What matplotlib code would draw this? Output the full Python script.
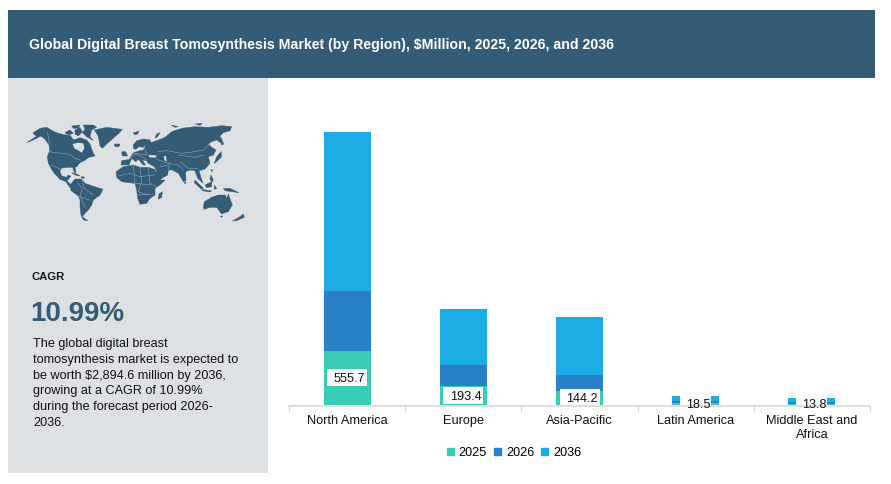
import matplotlib
matplotlib.use("Agg")
import matplotlib.pyplot as plt
from matplotlib.patches import Patch, Polygon, Rectangle

plt.rcParams["font.family"] = ["Liberation Sans", "DejaVu Sans"]

W, H = 891, 484
DARK = "#355C76"
PANEL = "#DEE1E4"
COLORS = {"2025": "#38CBB5", "2026": "#2A80C7", "2036": "#1DADE6"}

regions = ["North America", "Europe", "Asia-Pacific", "Latin America", "Middle East and\nAfrica"]
values_2025 = [555.7, 193.4, 144.2, 18.5, 13.8]
values_2026 = [617, 216, 165, 25, 18]
values_2036 = [1636, 576, 597, 50, 36]

title = "Global Digital Breast Tomosynthesis Market (by Region), $Million, 2025, 2026, and 2036"
body = [
    "The global digital breast",
    "tomosynthesis market is expected to",
    "be worth $2,894.6 million by 2036,",
    "growing at a CAGR of 10.99%",
    "during the forecast period 2026-",
    "2036.",
]

# Simplified land outlines for the world map, in map units.
# The eastern hemisphere list is shifted right by EAST_SHIFT when drawn.
EAST_SHIFT = 270
land_west = [
    [(25,38),(45,25),(65,22),(82,32),(92,37),(115,44),(135,46),(146,60),(165,53),(185,60),(195,72),(205,100),(210,108),(192,112),(178,122),(165,128),(155,140),(150,143),(153,158),(148,158),(143,142),(125,142),(108,145),(105,155),(110,168),(125,172),(128,165),(138,168),(130,178),(128,185),(140,195),(135,203),(122,185),(105,178),(88,160),(80,148),(70,130),(67,110),(74,92),(72,75),(60,58),(48,48),(25,60),(5,68),(25,55),(35,48),(25,42)],
    [(120,38),(135,30),(145,40),(130,45)],
    [(150,30),(165,22),(172,35),(160,48),(150,42)],
    [(175,15),(205,15),(215,22),(200,30),(195,50),(205,62),(185,50),(172,38),(180,28)],
    [(140,18),(165,15),(160,24),(145,25)],
    [(208,30),(245,22),(292,28),(282,40),(270,50),(245,72),(232,85),(225,78),(222,60),(218,45)],
    [(268,72),(285,72),(282,80),(270,80)],
    [(135,195),(150,177),(170,177),(180,190),(200,197),(234,208),(225,225),(205,240),(200,255),(190,270),(180,280),(172,290),(188,302),(175,300),(168,285),(165,260),(165,240),(160,228),(138,212)],
    [(140,158),(158,163),(165,168),(150,165)],
    [(168,170),(178,171),(177,175),(169,174)],
]
land_east = [
    [(3,155),(25,140),(55,135),(75,142),(100,142),(118,148),(130,165),(138,180),(150,180),(135,195),(120,205),(120,225),(105,235),(95,250),(75,253),(68,235),(65,210),(60,190),(40,188),(20,185),(5,172)],
    [(18,135),(20,122),(42,118),(50,106),(55,98),(75,92),(85,90),(95,72),(125,62),(150,52),(170,35),(200,25),(240,20),(280,22),(320,17),(350,20),(345,32),(325,38),(315,48),(322,72),(305,60),(290,65),(280,72),(290,82),(303,90),(295,105),(280,110),(285,130),(270,147),(252,152),(258,172),(264,190),(248,175),(240,152),(225,150),(212,155),(213,182),(205,185),(190,160),(172,150),(160,150),(158,165),(135,178),(125,155),(118,140),(100,130),(95,122),(82,120),(92,135),(85,135),(70,118),(62,125),(50,115),(42,135)],
    [(55,75),(65,62),(85,57),(105,60),(108,70),(95,72),(85,82),(72,80),(62,88),(55,85)],
    [(20,95),(32,95),(38,108),(22,108)],
    [(55,38),(72,34),(68,42),(58,44)],
    [(120,55),(125,42),(135,38),(128,50)],
    [(168,15),(190,20),(180,22)],
    [(240,12),(262,10),(255,16)],
    [(318,52),(326,72),(320,75)],
    [(305,110),(318,95),(320,110),(305,125),(298,130)],
    [(288,148),(293,150),(290,156)],
    [(288,165),(295,180),(290,188),(285,175)],
    [(240,180),(265,205),(258,207),(238,188)],
    [(260,208),(290,213),(285,216),(262,212)],
    [(270,195),(290,185),(290,200),(275,203)],
    [(298,195),(305,205),(298,208)],
    [(325,205),(345,205),(372,218),(350,215),(330,212)],
    [(265,262),(268,245),(290,232),(310,225),(330,225),(335,235),(340,222),(352,255),(340,275),(320,282),(305,262),(285,262),(268,268)],
    [(315,288),(323,288),(320,292)],
    [(352,303),(372,292),(385,282),(388,292),(365,302)],
    [(142,215),(140,232),(130,238),(132,222)],
    [(208,185),(214,188),(210,192)],
]
lakes_west = [[(143,72),(160,68),(175,70),(178,85),(170,98),(158,90),(148,85)]]
lakes_east = [[(100,105),(125,106),(122,113),(104,112)], [(147,108),(153,108),(155,125),(148,120)]]
borders_west = [
    [(68,38),(73,72)],
    [(72,95),(110,100),(135,103),(150,115),(165,120)],
    [(78,135),(105,147)],
    [(122,185),(130,178)],
    [(158,190),(172,205),(165,228),(180,262)],
    [(170,177),(178,205),(205,225)],
    [(160,228),(192,240)],
]
borders_east = [
    [(10,168),(45,160),(75,170),(118,165)],
    [(55,135),(60,190)],
    [(75,142),(80,185),(70,215),(100,225)],
    [(100,142),(105,190),(125,200)],
    [(60,190),(110,195)],
    [(68,225),(115,222)],
    [(42,118),(62,100),(95,105)],
    [(55,98),(80,110),(95,120)],
    [(90,85),(95,105)],
    [(128,95),(155,92),(200,100),(240,95),(265,90),(285,72)],
    [(190,105),(240,112),(268,105)],
    [(195,125),(220,145),(250,145)],
    [(125,118),(160,130),(190,135),(205,150)],
    [(160,148),(165,125)],
    [(135,140),(160,135)],
]

fig = plt.figure(figsize=(W / 100, H / 100), dpi=100, facecolor="white")

# Page furniture in pixel coordinates
page = fig.add_axes([0, 0, 1, 1])
page.set_xlim(0, W)
page.set_ylim(H, 0)
page.axis("off")
page.add_patch(Rectangle((8, 10), 867, 68, color=DARK, lw=0))
page.add_patch(Rectangle((8, 78), 260, 395, color=PANEL, lw=0))
page.text(29, 45, title, color="white", fontsize=10.15, fontweight="bold", va="center", ha="left")
page.text(32, 277.5, "CAGR", color="#1a1a1a", fontsize=8.1, fontweight="bold", va="center", ha="left")
page.text(30, 314, "10.99%", color=DARK, fontsize=20, fontweight="bold", va="center", ha="left")
for i, line in enumerate(body):
    page.text(33, 344 + i * 15.8, line, color="#111111", fontsize=9.1, va="center", ha="left")

# World map
globe = fig.add_axes([25 / W, 1 - 230 / H, 225 / W, 110 / H])
globe.set_xlim(0, 675)
globe.set_ylim(330, 0)
globe.axis("off")


def shifted(points, dx):
    return [(px + dx, py) for px, py in points]


for outline, dx in [(o, 0) for o in land_west] + [(o, EAST_SHIFT) for o in land_east]:
    globe.add_patch(Polygon(shifted(outline, dx), closed=True, facecolor=DARK, edgecolor=DARK, lw=0.3))
for outline, dx in [(o, 0) for o in lakes_west] + [(o, EAST_SHIFT) for o in lakes_east]:
    globe.add_patch(Polygon(shifted(outline, dx), closed=True, facecolor=PANEL, edgecolor="none"))
for line, dx in [(o, 0) for o in borders_west] + [(o, EAST_SHIFT) for o in borders_east]:
    xs, ys = zip(*shifted(line, dx))
    globe.plot(xs, ys, color="#8FA7B8", lw=0.4)

# Stacked bars
ax = fig.add_axes([289 / W, 1 - 405 / H, 581 / W, 291.6 / H])
ax.patch.set_alpha(0)
x = list(range(len(regions)))
bar_w = 47 / 116.2
bottoms_2026 = values_2025
bottoms_2036 = [a + b for a, b in zip(values_2025, values_2026)]
ax.bar(x, values_2025, bar_w, color=COLORS["2025"], label="2025")
ax.bar(x, values_2026, bar_w, bottom=bottoms_2026, color=COLORS["2026"], label="2026")
ax.bar(x, values_2036, bar_w, bottom=bottoms_2036, color=COLORS["2036"], label="2036")
ax.set_xlim(-0.5, 4.5)
ax.set_ylim(0, 3000)

# White plates sit behind the axis line, the numbers in front of it.
# A plate is as wide as its number plus a fixed margin.
plate_h = 17 / (291.6 / 3000)
for xi, value in zip(x, values_2025):
    text = f"{value:.1f}"
    plate_w = (40 if len(text) == 5 else 31) / 116.2
    ax.add_patch(Rectangle((xi - plate_w / 2, value / 2 - plate_h / 2), plate_w, plate_h,
                           facecolor="white", edgecolor="none", zorder=3, clip_on=False))
    ax.annotate(
        text, (xi, value / 2), xytext=(2.5, -1), textcoords="offset pixels",
        ha="center", va="center", fontsize=9.1, color="#111111", zorder=6, annotation_clip=False,
    )

for side in ("top", "left", "right"):
    ax.spines[side].set_visible(False)
ax.spines["bottom"].set_color("#D4D4D4")
ax.spines["bottom"].set_linewidth(1.1)
ax.spines["bottom"].set_zorder(4)
ax.spines["bottom"].set_position(("outward", 0.5))
ax.set_yticks([])
ax.set_xticks(x)
ax.set_xticklabels(regions, fontsize=9.2, color="#111111", linespacing=1.2)
ax.tick_params(axis="x", length=0, pad=7)
ax.set_xticks([v - 0.5 for v in range(len(regions) + 1)], minor=True)
ax.tick_params(axis="x", which="minor", length=3.5, width=0.8, color="#D4D4D4")

handles = [Patch(color=COLORS[k], label=k) for k in COLORS]
fig.legend(
    handles=handles, ncol=3, frameon=False, fontsize=9.1,
    loc="center", bbox_to_anchor=(514 / W, 1 - 453 / H),
    handlelength=0.55, handleheight=0.55, handletextpad=0.4, columnspacing=0.54,
)

fig.savefig("out.png", dpi=100)
